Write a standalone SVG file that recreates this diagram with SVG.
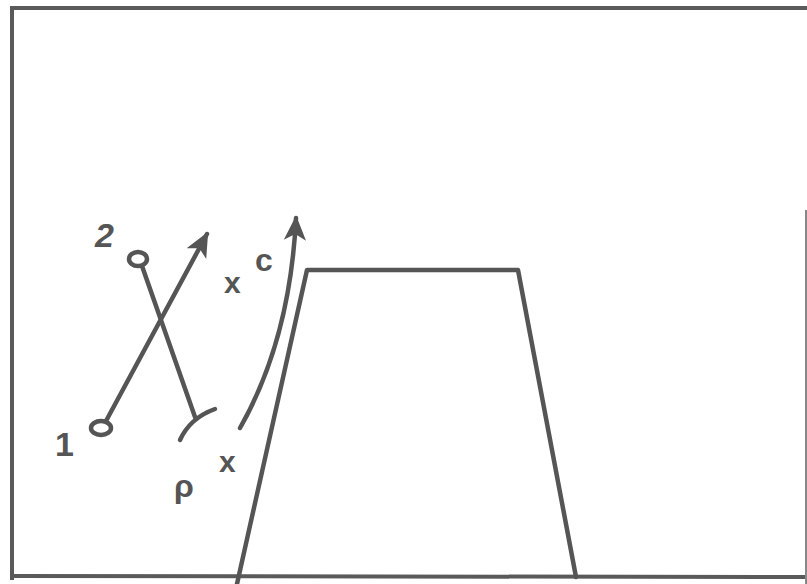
<svg xmlns="http://www.w3.org/2000/svg" width="807" height="584" viewBox="0 0 807 584">
<defs>
<style>
.ln{fill:none;stroke:#555;stroke-width:4.5;stroke-linecap:round;stroke-linejoin:round}
.fr{fill:none;stroke:#5a5a5a;stroke-width:4}
.lb{font-family:"Liberation Sans",Arial,sans-serif;fill:#555;font-weight:bold}
</style>
<marker id="ah" viewBox="0 0 10 10" refX="9" refY="5" markerWidth="5.5" markerHeight="5.5" orient="auto" markerUnits="strokeWidth">
<path d="M0,0.5 L10,5 L0,9.5 L2.5,5 z" fill="#555"/>
</marker>
</defs>
<rect width="807" height="584" fill="#fff"/>
<g id="frame">
<path class="fr" d="M12,580 L12,8 L807,8"/>
<path class="fr" d="M10,576 L807,577"/>
<path d="M806,210 L806,584" stroke="#888" stroke-width="2" fill="none"/>
</g>
<g id="trapezoid">
<path class="ln" d="M237,584 L307,270 L518,270 L576,577"/>
</g>
<g id="node1">
<ellipse class="ln" cx="101" cy="428" rx="10" ry="7"/>
<text class="lb" x="55" y="456" font-size="34" font-weight="normal">1</text>
</g>
<g id="node2">
<ellipse class="ln" cx="138" cy="259" rx="9" ry="7"/>
<text class="lb" x="95" y="247" font-size="34" font-style="italic">2</text>
</g>
<g id="connectors">
<path class="ln" d="M106,421 L207,234" marker-end="url(#ah)"/>
<path class="ln" d="M142,266 L195,417"/>
<path class="ln" d="M180,440 Q190,418 215,409"/>
<path class="ln" d="M240,428 Q290,340 296,218" marker-end="url(#ah)"/>
</g>
<g id="labels">
<text class="lb" x="224" y="293" font-size="30">x</text>
<text class="lb" x="255" y="271" font-size="32">c</text>
<text class="lb" x="174" y="497" font-size="32">ρ</text>
<text class="lb" x="219" y="472" font-size="30">x</text>
</g>
</svg>
